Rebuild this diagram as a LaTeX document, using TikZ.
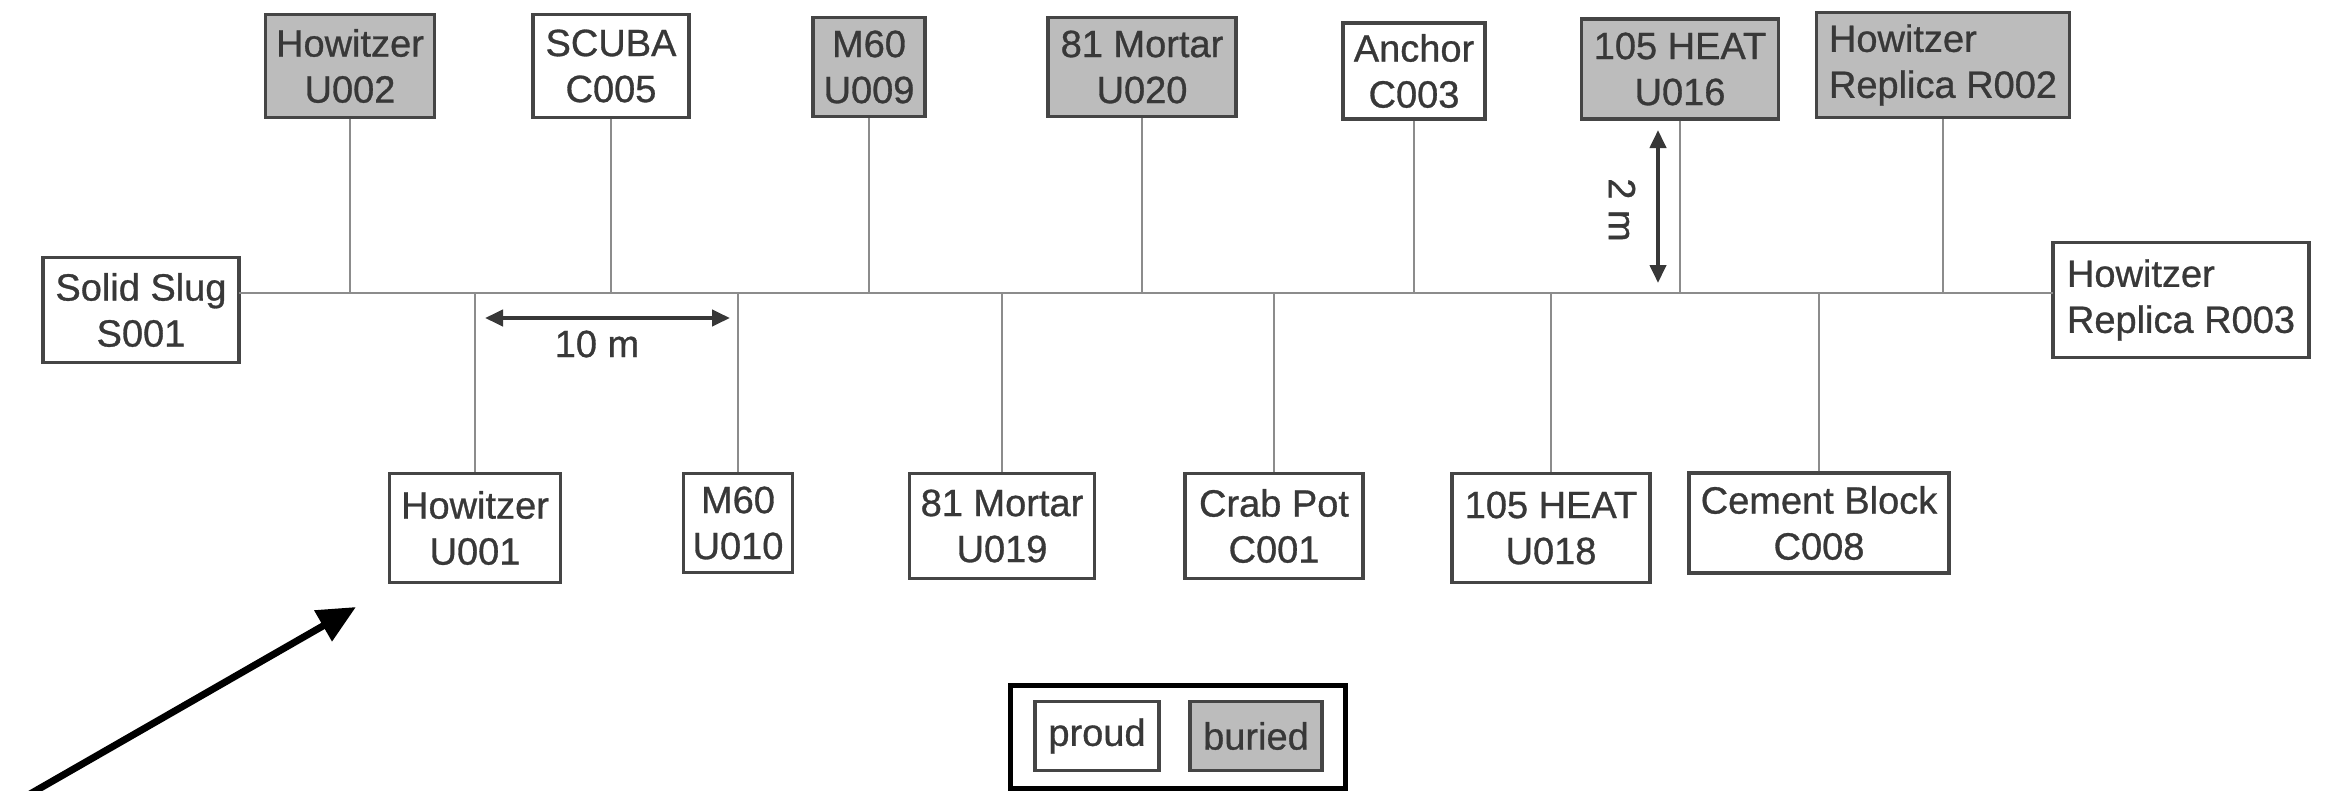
\documentclass[tikz,border=0pt]{standalone}
\usepackage{fontspec}
\setmainfont{Liberation Sans}[FakeBold=0.8]
\usetikzlibrary{arrows.meta}
\definecolor{boxline}{HTML}{454545}
\definecolor{buriedfill}{HTML}{BCBCBC}
\definecolor{stemcol}{HTML}{8C8C8C}
\definecolor{txtcol}{HTML}{383838}
\begin{document}
\begin{tikzpicture}[x=1pt,y=-1pt,
 item/.style={draw=boxline, line width=3.5pt, inner sep=0pt, align=center, text=txtcol, font=\fontsize{38}{46}\selectfont},
 proudbox/.style={item, fill=white},
 buriedbox/.style={item, fill=buriedfill},
 stem/.style={draw=stemcol, line width=2pt},
 dimarrow/.style={line width=4pt, draw=txtcol, {Triangle[length=18pt,width=16pt]}-{Triangle[length=18pt,width=16pt]}},
 dimlabel/.style={text=txtcol, inner sep=0pt, font=\fontsize{38}{46}\selectfont},
]
\useasboundingbox (0,0) rectangle (2332,790);
\fill[white] (0,0) rectangle (2332,790);

% main line
\node[proudbox, minimum width=196pt, minimum height=105pt] (s001) at (141,310) {Solid Slug\\S001};
\node[proudbox, align=left, minimum width=256pt, minimum height=115pt] (r003) at (2181,300) {Howitzer\\Replica R003};
\coordinate (mainL) at (239,293);
\coordinate (mainR) at (2053,293);
\draw[stem, line width=2.5pt] (mainL) -- (mainR);

% top row
\node[buriedbox, minimum width=169pt, minimum height=103pt] (u002) at (350,66) {Howitzer\\U002};
\node[proudbox, minimum width=156pt, minimum height=103pt] (c005) at (611,66) {SCUBA\\C005};
\node[buriedbox, minimum width=112pt, minimum height=99pt] (u009) at (869,67) {M60\\U009};
\node[buriedbox, minimum width=188pt, minimum height=99pt] (u020) at (1142,67) {81 Mortar\\U020};
\node[proudbox, minimum width=142pt, minimum height=96pt] (c003) at (1414,71) {Anchor\\C003};
\node[buriedbox, minimum width=197pt, minimum height=100pt] (u016) at (1680,69) {105 HEAT\\U016};
\node[buriedbox, align=left, minimum width=253pt, minimum height=105pt] (r002) at (1943,65) {Howitzer\\Replica R002};

% bottom row
\node[proudbox, minimum width=171pt, minimum height=109pt] (u001) at (475,528) {Howitzer\\U001};
\node[proudbox, minimum width=109pt, minimum height=99pt] (u010) at (738,523) {M60\\U010};
\node[proudbox, minimum width=185pt, minimum height=105pt] (u019) at (1002,526) {81 Mortar\\U019};
\node[proudbox, minimum width=178pt, minimum height=105pt] (c001) at (1274,526) {Crab Pot\\C001};
\node[proudbox, minimum width=198pt, minimum height=109pt] (u018) at (1551,528) {105 HEAT\\U018};
\node[proudbox, minimum width=260pt, minimum height=100pt] (c008) at (1819,523) {Cement Block\\C008};

% stems
\foreach \n in {u002,c005,u009,u020,c003,u016,r002}
  \draw[stem] (\n.south) -- (\n.south |- mainL);
\foreach \n in {u001,u010,u019,c001,u018,c008}
  \draw[stem] (\n.north) -- (\n.north |- mainL);

% dimension arrows
\coordinate (tenL) at (485,318);
\coordinate (tenR) at (730,318);
\draw[dimarrow] (tenL) -- (tenR);
\node[dimlabel] (tenlab) at (597,344) {10 m};
\coordinate (twoT) at (1658,130);
\coordinate (twoB) at (1658,283);
\draw[dimarrow] (twoT) -- (twoB);
\node[dimlabel, rotate=-90] (twolab) at (1622,210) {2 m};

% legend
\node[draw=black, line width=5pt, minimum width=335pt, minimum height=103pt, inner sep=0pt] (legend) at (1177.5,736.5) {};
\node[proudbox, minimum width=124pt, minimum height=69pt] (lproud) at (1097,736) {proud};
\node[buriedbox, minimum width=132pt, minimum height=69pt] (lburied) at (1256,736) {buried};

% pointer arrow
\coordinate (bigtail) at (30,794);
\coordinate (bigtip) at (356,607);
\draw[line width=7pt, -{Triangle[length=38pt,width=34pt]}] (bigtail) -- (bigtip);
\end{tikzpicture}
\end{document}
